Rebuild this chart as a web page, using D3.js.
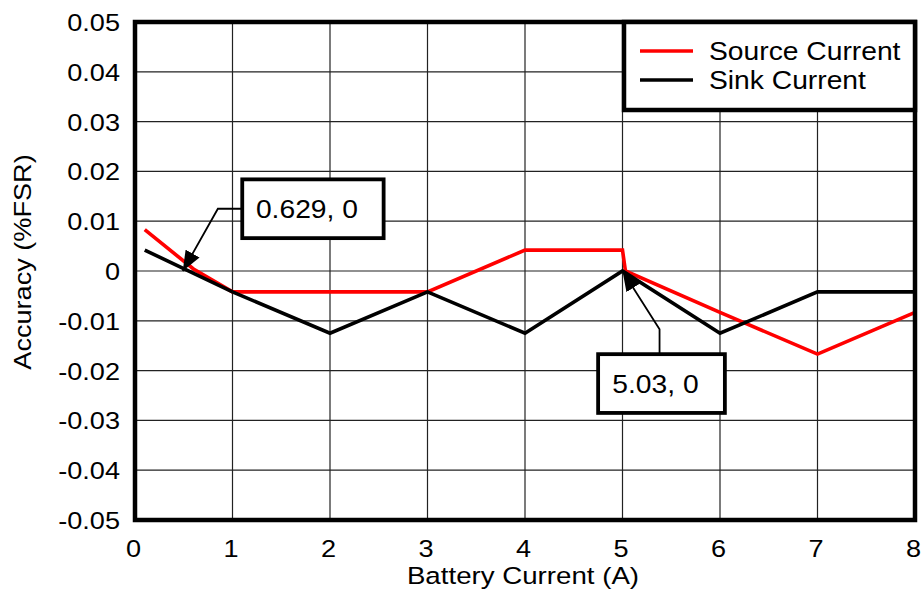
<!DOCTYPE html>
<html><head><meta charset="utf-8">
<script src="https://cdn.jsdelivr.net/npm/d3@7"></script>
<style>body{margin:0;background:#fff}svg{display:block;font-family:"Liberation Sans",Arial,sans-serif}</style>
</head><body><svg id="c" width="923" height="590"></svg>
<script>
const xTicks = [0,1,2,3,4,5,6,7,8];
const yTicks = [0.05,0.04,0.03,0.02,0.01,0,-0.01,-0.02,-0.03,-0.04,-0.05];
const yTickLabels = ["0.05","0.04","0.03","0.02","0.01","0","-0.01","-0.02","-0.03","-0.04","-0.05"];
const sourceX = [0.1, 0.6, 1, 2, 3, 4, 5, 5.03, 6, 7, 8];
const sourceY = [0.0083, 0.0004, -0.0042, -0.0042, -0.0042, 0.0042, 0.0042, 0, -0.0083, -0.0167, -0.0083];
const sinkX = [0.1, 1, 2, 3, 4, 5, 6, 7, 8];
const sinkY = [0.0042, -0.0042, -0.0125, -0.0042, -0.0125, 0, -0.0125, -0.0042, -0.0042];
const seriesNames = ["Source Current", "Sink Current"];
const seriesColors = ["#ff0000", "#000000"];
const annotations = [
  {label:"0.629, 0", px:0.49, py:0.0, bx0:1.1, bx1:2.55, by0:0.0184, by1:0.0066, elbow:[0.85,0.0125]},
  {label:"5.03, 0", px:5.0, py:0.0, bx0:4.75, bx1:6.05, by0:-0.0167, by1:-0.0285, elbow:[5.38,-0.0117]}
];

const SX = 1.13; // horizontal stretch of the reference's lettering
const svg = d3.select("#c");
const L=135, R=915, T=22, B=520;
const x = d3.scaleLinear().domain([0,8]).range([L,R]);
const y = d3.scaleLinear().domain([-0.05,0.05]).range([B,T]);

function stretchedText(g, X, Y, str, size, anchor){
  return g.append("text").attr("transform",`translate(${X},${Y}) scale(${SX},1)`)
    .attr("text-anchor",anchor||"start").attr("font-size",size).attr("fill","#000").text(str);
}

// grid
svg.append("g").selectAll("line").data(xTicks).join("line")
  .attr("x1",d=>x(d)).attr("x2",d=>x(d)).attr("y1",T).attr("y2",B)
  .attr("stroke","#222").attr("stroke-width",1.2);
svg.append("g").selectAll("line").data(yTicks).join("line")
  .attr("y1",d=>y(d)).attr("y2",d=>y(d)).attr("x1",L).attr("x2",R)
  .attr("stroke","#222").attr("stroke-width",1.2);

// axes via d3 axes
const xAxis = svg.append("g").attr("transform",`translate(0,${B})`)
  .call(d3.axisBottom(x).tickValues(xTicks).tickSize(0).tickPadding(0).tickFormat(d3.format("d")));
const yAxis = svg.append("g").attr("transform",`translate(${L},0)`)
  .call(d3.axisLeft(y).tickValues(yTicks).tickSize(0).tickPadding(0).tickFormat((d,i)=>yTickLabels[i]));
[xAxis,yAxis].forEach(a=>{a.select(".domain").remove();
  a.selectAll("text").attr("font-size",24).attr("fill","#000").attr("font-family","'Liberation Sans',Arial,sans-serif").attr("dy",null);});
xAxis.selectAll("text").attr("y",null).attr("transform",`translate(-2,37) scale(${SX},1)`);
yAxis.selectAll("text").attr("x",null).attr("transform",`translate(-15,8.5) scale(${SX},1)`);

// lines
const line = d3.line().x(d=>x(d[0])).y(d=>y(d[1]));
const series = [d3.zip(sourceX,sourceY), d3.zip(sinkX,sinkY)];
series.forEach((s,i)=>{
  svg.append("path").datum(s).attr("d",line).attr("fill","none").attr("stroke",seriesColors[i])
    .attr("stroke-width",3.6).attr("stroke-linejoin","miter");
});

// frame
svg.append("rect").attr("x",L).attr("y",T).attr("width",R-L).attr("height",B-T)
  .attr("fill","none").attr("stroke","#000").attr("stroke-width",4.5);

// annotations
svg.append("defs").append("marker").attr("id","ah").attr("viewBox","0 0 20 16")
  .attr("refX",20).attr("refY",8).attr("markerWidth",20).attr("markerHeight",16)
  .attr("markerUnits","userSpaceOnUse").attr("orient","auto")
  .append("path").attr("d","M0,0 L20,8 L0,16 Z").attr("fill","#000");
annotations.forEach((a,i)=>{
  const bx0=x(a.bx0), bx1=x(a.bx1), by0=y(a.by0), by1=y(a.by1);
  const ex=x(a.elbow[0]), ey=y(a.elbow[1]);
  const start = i===0 ? [bx0,ey] : [ex,by0];
  const pts=[start,[ex,ey],[x(a.px),y(a.py)]];
  svg.append("path").attr("d",d3.line()(pts)).attr("fill","none").attr("stroke","#000")
    .attr("stroke-width",1.8).attr("marker-end","url(#ah)");
  svg.append("rect").attr("x",bx0).attr("y",by0).attr("width",bx1-bx0).attr("height",by1-by0)
    .attr("fill","#fff").attr("stroke","#000").attr("stroke-width",3.8);
  stretchedText(svg,(bx0+bx1)/2-6,(by0+by1)/2+9.5,a.label,25,"middle");
});

// legend
const lg = svg.append("g");
lg.append("rect").attr("x",624).attr("y",T).attr("width",R-624).attr("height",88)
  .attr("fill","#fff").attr("stroke","#000").attr("stroke-width",4.5);
seriesNames.forEach((n,i)=>{
  const yy=51+i*29;
  lg.append("line").attr("x1",640).attr("x2",693).attr("y1",yy).attr("y2",yy)
    .attr("stroke",seriesColors[i]).attr("stroke-width",3.6);
  stretchedText(lg,709,yy+9,n,25,"start");
});

// titles
stretchedText(svg,523,584,"Battery Current (A)",24.5,"middle");
svg.append("text").attr("transform",`translate(31,${262}) rotate(-90) scale(${SX},1)`)
  .attr("text-anchor","middle").attr("font-size",24).text("Accuracy (%FSR)");
</script></body></html>
